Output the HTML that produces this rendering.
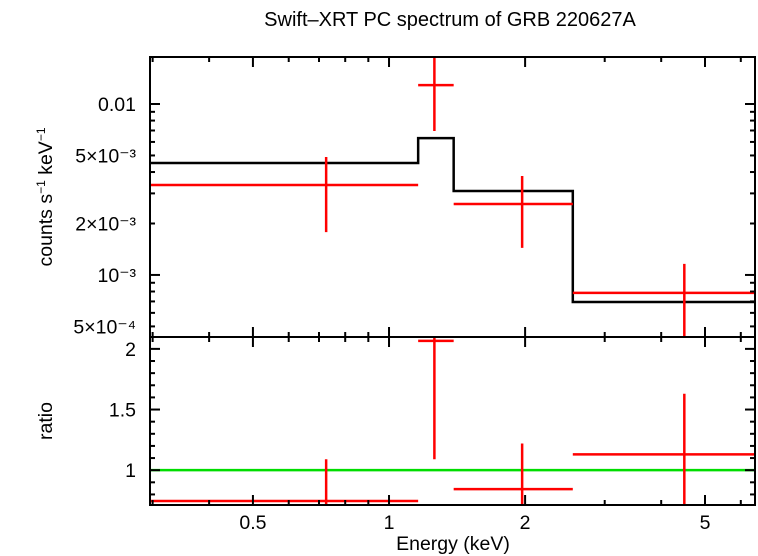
<!DOCTYPE html>
<html><head><meta charset="utf-8"><style>
body{margin:0;background:#fff}
svg{display:block;font-family:"Liberation Sans",sans-serif}
</style></head><body>
<svg id="c" width="758" height="556" xmlns="http://www.w3.org/2000/svg">
<defs>
<clipPath id="ct"><rect x="150" y="57" width="605" height="280"/></clipPath>
<clipPath id="cb"><rect x="150" y="337" width="605" height="168"/></clipPath>
</defs>
<text x="450" y="26" text-anchor="middle" font-size="20">Swift–XRT PC spectrum of GRB 220627A</text>
<text x="453" y="550" text-anchor="middle" font-size="19.5">Energy (keV)</text>
<text transform="translate(52,197) rotate(-90)" text-anchor="middle" font-size="19.5">counts s<tspan font-size="12" dy="-7">−1</tspan><tspan dy="7"> keV</tspan><tspan font-size="12" dy="-7">−1</tspan></text>
<text transform="translate(52,421) rotate(-90)" text-anchor="middle" font-size="19.5">ratio</text>
<g id="g"></g>
</svg>
<script>
const binLo=[0.296,1.16,1.39,2.55];
const binHi=[1.16,1.39,2.55,6.45];
const binMid=[0.726,1.26,1.97,4.5];
const modelVals=[4.52e-3,6.32e-3,3.1e-3,6.95e-4];
const dataVals=[3.36e-3,0.0129,2.6e-3,7.85e-4];
const dataErrHi=[4.9e-3,0.03,3.79e-3,1.16e-3];
const dataErrLo=[1.78e-3,6.95e-3,1.44e-3,3e-4];
const ratioVals=[0.746,2.066,0.844,1.13];
const ratioErrHi=[1.09,3,1.22,1.63];
const ratioErrLo=[0.4,1.09,0.4,0.4];
const xTicks=[0.5,1,2,5];
const xTickLabels=["0.5","1","2","5"];
const yTopTicks=[0.01,5e-3,2e-3,1e-3,5e-4];
const yTopLabels=["0.01","5×10⁻³","2×10⁻³","10⁻³","5×10⁻⁴"];
const yBotTicks=[2,1.5,1];
const yBotLabels=["2","1.5","1"];

const L=150,R=755,T=57,M=337,B=505;
const xMin=Math.log10(0.296),xMax=Math.log10(6.45);
const X=v=>L+(Math.log10(v)-xMin)/(xMax-xMin)*(R-L);
const yTMin=-3.363,yTMax=-1.725;
const YT=v=>M-(Math.log10(v)-yTMin)/(yTMax-yTMin)*(M-T);
const yBMin=0.713,yBMax=2.098;
const YB=v=>B-(v-yBMin)/(yBMax-yBMin)*(B-M);
const g=document.getElementById('g');
const NS="http://www.w3.org/2000/svg";
function el(tag,attrs,parent){const e=document.createElementNS(NS,tag);for(const k in attrs)e.setAttribute(k,attrs[k]);(parent||g).appendChild(e);return e;}
function line(x1,y1,x2,y2,c,w,p){return el('line',{x1,y1,x2,y2,stroke:c,'stroke-width':w},p);}

const gt=el('g',{'clip-path':'url(#ct)'});


const gb=el('g',{'clip-path':'url(#cb)'});



let d='';
for(let i=0;i<binLo.length;i++){d+=(i?'L':'M')+X(binLo[i])+','+YT(modelVals[i])+'L'+X(binHi[i])+','+YT(modelVals[i]);}
const mp=el('path',{d,fill:'none',stroke:'#000','stroke-width':2.5},gt);



for(let i=0;i<binLo.length;i++){
  const dg=el('g',{},gt);
  
  
  line(X(binLo[i]),YT(dataVals[i]),X(binHi[i]),YT(dataVals[i]),'#f00',2.5,dg);
  line(X(binMid[i]),YT(dataErrHi[i]),X(binMid[i]),YT(dataErrLo[i]),'#f00',2.5,dg);
}
const gl=line(L,YB(1),R,YB(1),'#0d0',2.5,gb);


for(let i=0;i<binLo.length;i++){
  const dg=el('g',{},gb);
  
  
  line(X(binLo[i]),YB(ratioVals[i]),X(binHi[i]),YB(ratioVals[i]),'#f00',2.5,dg);
  line(X(binMid[i]),YB(ratioErrHi[i]),X(binMid[i]),YB(ratioErrLo[i]),'#f00',2.5,dg);
}

const f1=el('rect',{x:L,y:T,width:R-L,height:M-T,fill:'none',stroke:'#000','stroke-width':2});


const f2=el('rect',{x:L,y:M,width:R-L,height:B-M,fill:'none',stroke:'#000','stroke-width':2});



for(let dec=0.1;dec<=10;dec*=10){for(let k=1;k<10;k++){const v=k*dec;const x=X(v);if(x<L+1||x>R-1)continue;
 const maj=xTicks.some(t=>Math.abs(t-v)<1e-9)||k===1;const len=maj?10:5;
 for(const [y0,dir] of [[T,1],[M,-1],[M,1],[B,-1]])line(x,y0,x,y0+dir*len,'#000',2);}}
xTicks.forEach((v,i)=>{const t=el('text',{x:X(v),y:529,'text-anchor':'middle','font-size':19.5});t.textContent=xTickLabels[i];
 
 });

for(let dec=1e-4;dec<=0.01;dec*=10){for(let k=1;k<10;k++){const v=k*dec;const y=YT(v);if(y<T+1||y>M-1)continue;
 const maj=k===1;const len=maj?10:5;line(L,y,L+len,y,'#000',2);line(R,y,R-len,y,'#000',2);}}
yTopTicks.forEach((v,i)=>{const t=el('text',{x:136,y:YT(v)+7,'text-anchor':'end','font-size':19.5});t.textContent=yTopLabels[i];
 
 });

for(let v=0.8;v<=2.05;v+=0.1){const y=YB(v);const maj=Math.abs(v*2-Math.round(v*2))<1e-6;const len=maj?10:5;
 line(L,y,L+len,y,'#000',2);line(R,y,R-len,y,'#000',2);}
yBotTicks.forEach((v,i)=>{const t=el('text',{x:136,y:YB(v)+7,'text-anchor':'end','font-size':19.5});t.textContent=yBotLabels[i];
 
 });
</script>
</body></html>
